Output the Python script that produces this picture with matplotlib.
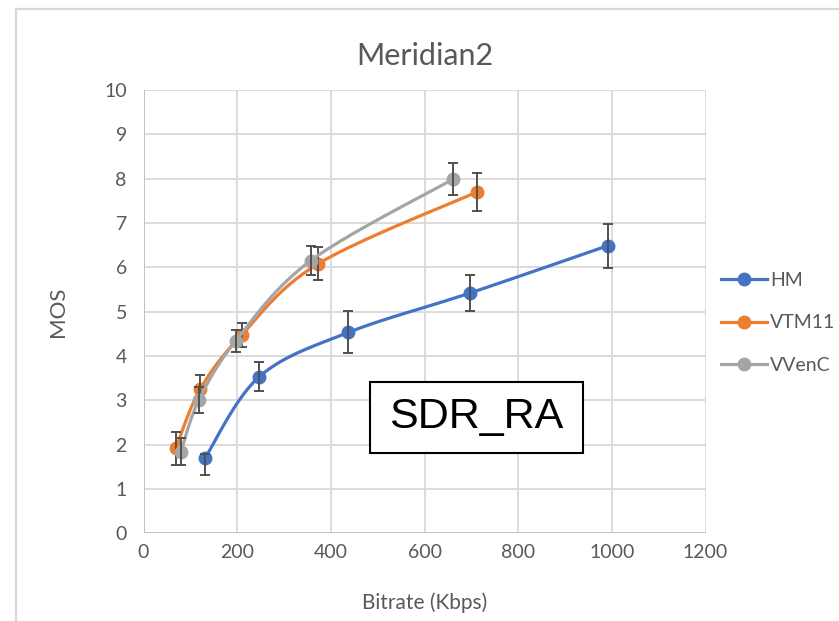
import matplotlib
matplotlib.use("Agg")
import matplotlib.pyplot as plt
from matplotlib.patches import Rectangle
import numpy as np

plt.rcParams['font.family'] = ['Lato', 'DejaVu Sans']

# data
hm_rate = [131, 247, 437, 697, 992]
hm_mos = [1.69, 3.53, 4.53, 5.42, 6.49]
hm_err_lo = [0.37, 0.32, 0.47, 0.40, 0.50]
hm_err_hi = [0.10, 0.33, 0.48, 0.41, 0.49]

vtm_rate = [69, 121, 210, 373, 712]
vtm_mos = [1.92, 3.25, 4.48, 6.08, 7.70]
vtm_err = [0.37, 0.32, 0.27, 0.37, 0.43]

vvenc_rate = [80, 118, 197, 357, 661]
vvenc_mos = [1.84, 3.00, 4.34, 6.15, 7.99]
vvenc_err = [0.30, 0.29, 0.25, 0.32, 0.36]

x_ticks = [0, 200, 400, 600, 800, 1000, 1200]
y_ticks = list(range(0, 11))

TXT = "#595959"


def smooth(x, y, sx=562 / 1200, sy=443 / 10, n=30):
    # excel-like smoothed line: cubic bezier with catmull-rom controls
    p = np.column_stack([np.asarray(x) * sx, np.asarray(y) * sy])
    pts = []
    for i in range(len(p) - 1):
        p0 = p[i - 1] if i > 0 else p[i]
        p3 = p[i + 2] if i + 2 < len(p) else p[i + 1]
        c1 = p[i] + (p[i + 1] - p0) / 6
        c2 = p[i + 1] - (p3 - p[i]) / 6
        t = np.linspace(0, 1, n)[:, None]
        seg = ((1 - t) ** 3 * p[i] + 3 * (1 - t) ** 2 * t * c1
               + 3 * (1 - t) * t ** 2 * c2 + t ** 3 * p[i + 1])
        pts.append(seg if i == 0 else seg[1:])
    pts = np.vstack(pts)
    return pts[:, 0] / sx, pts[:, 1] / sy


fig = plt.figure(figsize=(8.39, 6.21), dpi=100)
fig.patches.append(Rectangle((16 / 839, -0.1), 1.2, (621 - 9) / 621 + 0.1,
                             transform=fig.transFigure, fill=False,
                             edgecolor="#d9d9d9", linewidth=1.6))
ax = fig.add_axes([143.5 / 839, (621 - 533.3) / 621, 562 / 839, 443.3 / 621])

series = [
    ("HM", hm_rate, hm_mos, [hm_err_lo, hm_err_hi], "#4472C4"),
    ("VTM11", vtm_rate, vtm_mos, vtm_err, "#ED7D31"),
    ("VVenC", vvenc_rate, vvenc_mos, vvenc_err, "#A5A5A5"),
]
handles = []
for k, (name, xs, ys, err, col) in enumerate(series):
    sxv, syv = smooth(xs, ys)
    ax.plot(sxv, syv, color=col, linewidth=2.3, zorder=3 + k * 3)
    ax.plot(xs, ys, 'o', color=col, markersize=9, zorder=4 + k * 3)
    ax.errorbar(xs, ys, yerr=err, fmt='none', ecolor="#505050",
                elinewidth=1.4, capsize=3.5, capthick=1.4, zorder=5 + k * 3)
    handles.append(ax.plot([], [], '-o', color=col, linewidth=2.3,
                           markersize=9, label=name)[0])

ax.set_xlim(0, 1200)
ax.set_ylim(0, 10)
ax.set_xticks(x_ticks)
ax.set_yticks(y_ticks)
ax.grid(True, color="#d9d9d9", linewidth=1.3, zorder=0)
ax.set_axisbelow(True)
for s in ax.spines.values():
    s.set_visible(False)
ax.axhline(0, color="#bfbfbf", linewidth=1.3, zorder=1)
ax.axvline(0, color="#bfbfbf", linewidth=1.3, zorder=1)
ax.tick_params(length=0, labelsize=14, labelcolor=TXT)
ax.tick_params(axis='y', pad=12)
ax.tick_params(axis='x', pad=8)

ax.set_title("Meridian2", fontsize=22, color=TXT, pad=18)
ax.set_xlabel("Bitrate (Kbps)", fontsize=15, color=TXT, labelpad=22)
ax.set_ylabel("MOS", fontsize=16, color=TXT, labelpad=26)

ax.add_patch(Rectangle((0.403, 0.181), 0.379, 0.160, transform=ax.transAxes,
                       fill=True, facecolor="white", edgecolor="black",
                       linewidth=1.5, zorder=20))
ax.text(0.592, 0.262, "SDR_RA", transform=ax.transAxes, fontsize=31,
        family="Liberation Sans", ha="center", va="center", zorder=21)

fig.legend(handles=handles, loc="center left", bbox_to_anchor=(0.838, 0.48),
           frameon=False, fontsize=14, labelcolor=TXT, labelspacing=1.3,
           handlelength=2.4, handletextpad=0.15)

fig.savefig("out.png", dpi=100)
